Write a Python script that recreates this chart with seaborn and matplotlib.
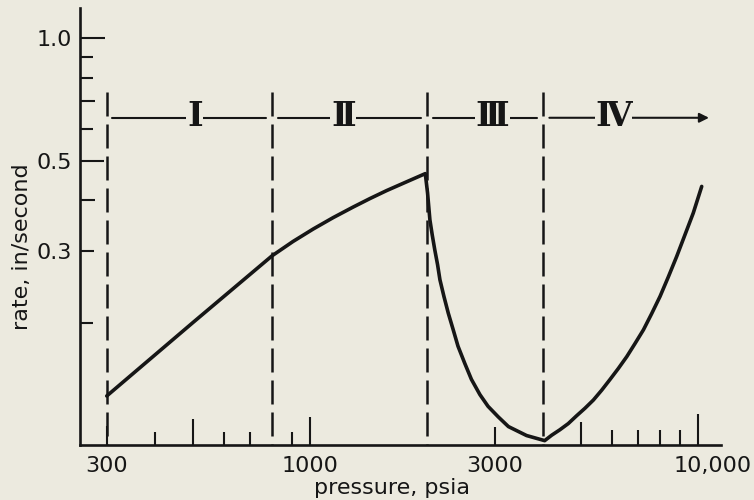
import numpy as np
import pandas as pd
import matplotlib
matplotlib.use("Agg")
import matplotlib.pyplot as plt
import matplotlib.transforms as mtransforms
from matplotlib.ticker import FixedLocator, FixedFormatter, NullFormatter
import seaborn as sns

# ---------------- data ----------------
pressure = [300, 500, 800, 906, 1021, 1149, 1294, 1429, 1578, 1777, 1985,
            2012, 2040, 2068, 2100, 2135, 2165, 2217, 2275, 2342, 2410, 2510,
            2610, 2745, 2880, 3059, 3250, 3620, 4030, 4201, 4410, 4636, 4870,
            5117, 5380, 5652, 5940, 6237, 6560, 6886, 7240, 7602, 7990, 8391,
            8820, 9264, 9730, 10230]
rate = [0.132, 0.200, 0.292, 0.3167, 0.3398, 0.3624, 0.3848, 0.4037, 0.4224,
        0.444, 0.465, 0.4166, 0.358, 0.329, 0.302, 0.2777, 0.255, 0.232,
        0.211, 0.1922, 0.175, 0.1586, 0.145, 0.133, 0.1245, 0.1173, 0.111,
        0.1055, 0.1025, 0.1057, 0.109, 0.1129, 0.118, 0.1231, 0.129, 0.1364,
        0.145, 0.1542, 0.165, 0.1776, 0.192, 0.2104, 0.232, 0.259, 0.291,
        0.329, 0.372, 0.4325]

boundaries = [300, 800, 2000, 4000]
boundary_top = 0.74
regions = ["Ⅰ", "Ⅱ", "Ⅲ", "Ⅳ"]
region_centers = [506, 1221, 2949, 6061]
arrow_y = 0.638
arrow_start = 309
arrow_end = 10680

x_major = [300, 1000, 3000, 10000]
x_major_labels = ["300", "1000", "3000", "10,000"]
x_minor = [400, 500, 600, 700, 900, 5000, 6000, 7000, 8000, 9000]
y_major = [0.3, 0.5, 1.0]
y_major_labels = ["0.3", "0.5", "1.0"]
y_minor = [0.2, 0.4, 0.6, 0.7, 0.8, 0.9]

# ---------------- style ----------------
bg = "#ECEADF"
ink = "#161616"
sns.set_style("ticks")
plt.rcParams["font.family"] = ["DejaVu Sans"]
plt.rcParams["text.color"] = ink
plt.rcParams["axes.labelcolor"] = ink
plt.rcParams["xtick.color"] = ink
plt.rcParams["ytick.color"] = ink

fig = plt.figure(figsize=(7.54, 5.0), dpi=100, facecolor=bg)
ax = fig.add_axes([80 / 754, 1 - 445 / 500, 641 / 754, 437 / 500])
ax.set_facecolor(bg)
ax.set_xscale("log")
ax.set_yscale("log")

df = pd.DataFrame({"pressure": pressure, "rate": rate})
sns.lineplot(data=df, x="pressure", y="rate", ax=ax, color=ink, lw=2.6,
             estimator=None, sort=False, solid_capstyle="round",
             solid_joinstyle="round", zorder=4)

ax.set_xlim(256, 11470)
ax.set_ylim(0.1, 1.188)

# boundaries (dashed)
for b in boundaries:
    ax.plot([b, b], [boundary_top, 0.1], color=ink, lw=1.8,
            ls=(0, (9.6, 3.2)), zorder=3, clip_on=False)

# horizontal region line with gaps at the boundaries
gap = 1.036
seg_bounds = [arrow_start] + boundaries[1:]
for a, b in zip(seg_bounds[:-1], seg_bounds[1:]):
    a0 = a if a == arrow_start else a * gap
    ax.plot([a0, b / gap], [arrow_y, arrow_y], color=ink, lw=1.5, zorder=3)
ax.annotate("", xy=(arrow_end, arrow_y), xytext=(boundaries[-1] * gap, arrow_y),
            arrowprops=dict(arrowstyle="-|>", color=ink, lw=1.5,
                            mutation_scale=14, shrinkA=0, shrinkB=0),
            zorder=3)
for lab, xc in zip(regions, region_centers):
    ax.text(xc, arrow_y, lab, ha="center", va="center", fontsize=24,
            fontweight="bold", family=["Liberation Serif", "DejaVu Serif"],
            color=ink, zorder=5,
            bbox=dict(facecolor=bg, edgecolor="none", pad=0.5))

# axes & ticks
sns.despine(ax=ax)
for s in ["left", "bottom"]:
    ax.spines[s].set_linewidth(1.9)
    ax.spines[s].set_color(ink)

ax.xaxis.set_major_locator(FixedLocator(x_major))
ax.xaxis.set_major_formatter(FixedFormatter(x_major_labels))
ax.xaxis.set_minor_locator(FixedLocator(x_minor))
ax.xaxis.set_minor_formatter(NullFormatter())
ax.yaxis.set_major_locator(FixedLocator(y_major))
ax.yaxis.set_major_formatter(FixedFormatter(y_major_labels))
ax.yaxis.set_minor_locator(FixedLocator(y_minor))
ax.yaxis.set_minor_formatter(NullFormatter())

ax.tick_params(which="both", direction="in", width=1.5, color=ink)
ax.tick_params(axis="x", which="major", pad=8, labelsize=16)
ax.tick_params(axis="y", which="major", pad=6, labelsize=16)

x_major_len = [14, 20, 13, 22]
x_minor_len = [9.4, 18.7, 9.4, 9.4, 9.4, 16.5, 11, 11, 11, 11]
y_major_len = [10, 17, 18]
y_minor_len = [9.5, 11, 9.5, 11, 9.5, 9]
for t, L in zip(ax.xaxis.get_major_ticks(), x_major_len):
    t.tick1line.set_markersize(L)
for t, L in zip(ax.xaxis.get_minor_ticks(), x_minor_len):
    t.tick1line.set_markersize(L)
for t, L in zip(ax.yaxis.get_major_ticks(), y_major_len):
    t.tick1line.set_markersize(L)
for t, L in zip(ax.yaxis.get_minor_ticks(), y_minor_len):
    t.tick1line.set_markersize(L)

# shift the "10,000" label a bit to the right as in the original
lab = ax.xaxis.get_major_ticks()[3].label1
lab.set_transform(lab.get_transform() +
                  mtransforms.ScaledTranslation(0.15, 0, fig.dpi_scale_trans))

ax.set_xlabel("pressure, psia", fontsize=16, va="center")
ax.xaxis.set_label_coords((392 - 80) / 641, (445 - 488) / 437)
ax.set_ylabel("rate, in/second", fontsize=16, va="center")
ax.yaxis.set_label_coords((22 - 80) / 641, (445 - 247) / 437)

fig.savefig("out.png", dpi=100, facecolor=bg)
